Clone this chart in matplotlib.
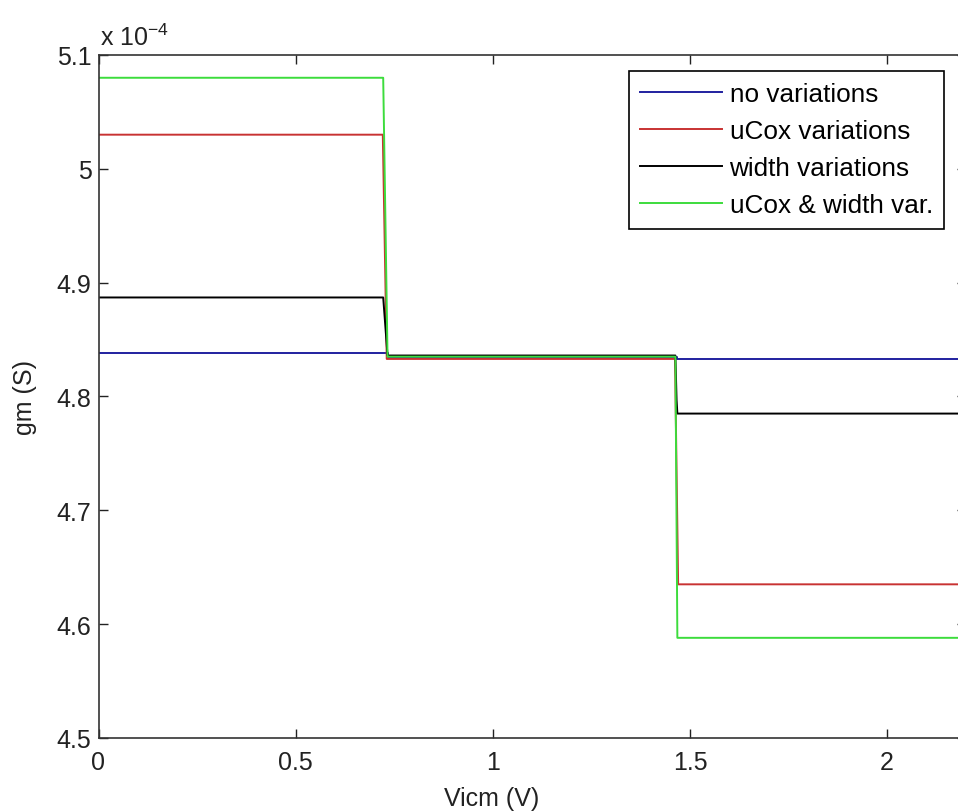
import matplotlib
matplotlib.use("Agg")
import matplotlib.pyplot as plt
from matplotlib.ticker import FuncFormatter, MultipleLocator

plt.rcParams['font.family'] = ['Liberation Sans', 'DejaVu Sans']
plt.rcParams['mathtext.default'] = 'regular'

# ---- data (gm in units of 1e-4 S) ----
labels = ["no variations", "uCox variations", "width variations", "uCox & width var."]

vicm_no = [0, 0.733, 0.733, 1.466, 1.466, 2.2]
gm_no = [4.838, 4.838, 4.835, 4.835, 4.833, 4.833]

vicm_ucox = [0, 0.721, 0.731, 1.462, 1.470, 2.2]
gm_ucox = [5.030, 5.030, 4.833, 4.833, 4.635, 4.635]

vicm_width = [0, 0.722, 0.733, 1.463, 1.466, 1.468, 2.2]
gm_width = [4.887, 4.887, 4.836, 4.836, 4.797, 4.785, 4.785]

vicm_both = [0, 0.722, 0.733, 1.463, 1.468, 2.2]
gm_both = [5.080, 5.080, 4.835, 4.835, 4.588, 4.588]

colors = ['#20209f', '#c83232', '#000000', '#3cdc3c']
scale = 1e-4

W, H = 958, 812
fig = plt.figure(figsize=(W / 100, H / 100), dpi=100)
left, right, top, bottom = 98.5, 966, 56, 739
ax = fig.add_axes([left / W, (H - bottom) / H, (right - left) / W, (bottom - top) / H])

series = [(vicm_no, gm_no), (vicm_ucox, gm_ucox), (vicm_width, gm_width), (vicm_both, gm_both)]
for (xs, ys), c, lab in zip(series, colors, labels):
    ax.plot(xs, [v * scale for v in ys], color=c, lw=1.4, label=lab)

ax.set_xlim(0, 2.2)
ax.set_ylim(4.5e-4, 5.1e-4)
ax.xaxis.set_major_locator(MultipleLocator(0.5))
ax.yaxis.set_major_locator(MultipleLocator(0.1e-4))
ax.yaxis.set_major_formatter(FuncFormatter(lambda v, p: '%g' % round(v / scale, 3)))
ax.xaxis.set_major_formatter(FuncFormatter(lambda v, p: '%g' % round(v, 3)))

ax.tick_params(direction='in', length=6.5, width=1, top=True, right=True,
               labelsize=18, colors='#222222')
ax.tick_params(axis='x', pad=9)
ax.tick_params(axis='y', pad=5)
for s in ax.spines.values():
    s.set_linewidth(1.2)
    s.set_color('#333333')

ax.set_xlabel('Vicm (V)', fontsize=18, color='#222222')
ax.xaxis.set_label_coords((492 - left) / (right - left), -(799 - bottom) / (bottom - top), transform=ax.transAxes)
ax.xaxis.label.set_va('center')
ax.set_ylabel('gm (S)', fontsize=18, color='#222222')
ax.yaxis.set_label_coords(-(left - 25) / (right - left), 0.5)
ax.yaxis.label.set_va('center')

fig.text(100 / W, 1 - 46 / H, r'x 10$^{-4}$', fontsize=18, color='#222222', ha='left', va='baseline')

leg = ax.legend(loc='upper left',
                bbox_to_anchor=((629 - left) / (right - left), (bottom - 72) / (bottom - top)),
                prop={'size': 18.8}, frameon=True, fancybox=False, framealpha=1,
                edgecolor='#000000', handlelength=3.15, handletextpad=0.27,
                labelspacing=0.5, borderpad=0.43, borderaxespad=0)
leg.get_frame().set_linewidth(1.2)

fig.savefig('out.png', dpi=100)
